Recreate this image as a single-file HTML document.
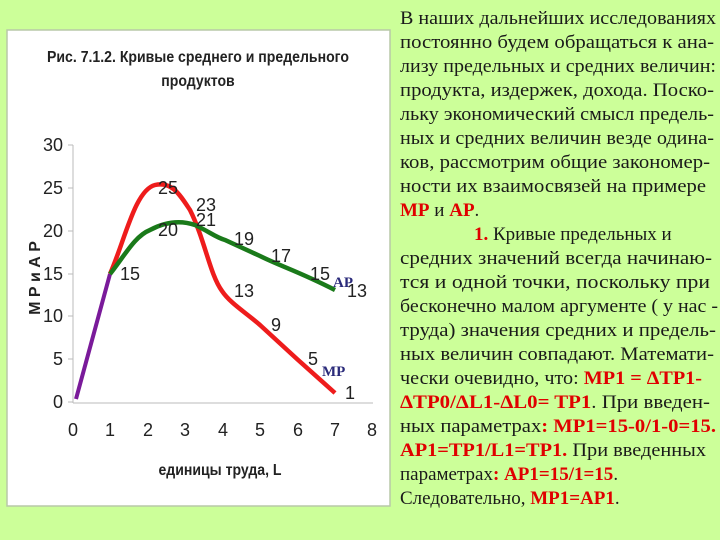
<!DOCTYPE html>
<html><head><meta charset="utf-8"><style>
html,body{margin:0;padding:0;background:#ccff99;}
svg{display:block}
</style></head><body>
<svg width="720" height="540" xmlns="http://www.w3.org/2000/svg">
<rect width="720" height="540" fill="#ccff99"/>
<rect x="7" y="30" width="383" height="476" fill="#fff" stroke="#b8c8a8" stroke-width="1.5"/>
<g font-family="Liberation Sans, sans-serif" font-weight="bold" fill="#222" text-anchor="middle">
<text x="198" y="62" font-size="16" transform="translate(198,0) scale(0.88,1) translate(-198,0)">Рис. 7.1.2. Кривые среднего и предельного</text>
<text x="198" y="86" font-size="16" transform="translate(198,0) scale(0.88,1) translate(-198,0)">продуктов</text>
<text x="220" y="475" font-size="16" transform="translate(220,0) scale(0.88,1) translate(-220,0)">единицы труда, L</text>
<text transform="translate(40,278) rotate(-90)" font-size="16">М Р  и  А Р</text>
</g>
<line x1="73" y1="145" x2="73" y2="403" stroke="#bbb"/>
<line x1="73" y1="403" x2="373" y2="403" stroke="#bbb"/>
<g stroke="#bbb">
<line x1="68" y1="145" x2="73" y2="145"/><line x1="68" y1="188" x2="73" y2="188"/><line x1="68" y1="231" x2="73" y2="231"/><line x1="68" y1="274" x2="73" y2="274"/><line x1="68" y1="316" x2="73" y2="316"/><line x1="68" y1="359" x2="73" y2="359"/><line x1="68" y1="402" x2="73" y2="402"/>
</g>
<g font-family="Liberation Sans, sans-serif" font-size="18" fill="#222">
<g text-anchor="end">
<text x="63" y="151">30</text><text x="63" y="194">25</text><text x="63" y="237">20</text><text x="63" y="280">15</text><text x="63" y="322">10</text><text x="63" y="365">5</text><text x="63" y="408">0</text>
</g>
<g text-anchor="middle">
<text x="73" y="436">0</text><text x="110" y="436">1</text><text x="148" y="436">2</text><text x="185" y="436">3</text><text x="223" y="436">4</text><text x="260" y="436">5</text><text x="298" y="436">6</text><text x="335" y="436">7</text><text x="372" y="436">8</text>
</g>
</g>
<path d="M76,399 L110,274" stroke="#7a1a9a" stroke-width="4" fill="none"/>
<path d="M110,274 C125,240 135,190 155,185 C172,181 180,195 190,210 C205,240 210,275 222,291 C230,303 245,312 260,325 L297,359 L335,393" stroke="#ee1c1c" stroke-width="4.5" fill="none"/>
<path d="M110,274 C125,255 135,236 150,230 C165,222 180,220 195,225 C210,232 215,237 225,240 L260,256 C280,266 300,272 335,290" stroke="#1a7a1a" stroke-width="4.5" fill="none"/>
<g font-family="Liberation Sans, sans-serif" font-size="18" fill="#222">
<text x="120" y="280">15</text>
<text x="158" y="194">25</text>
<text x="196" y="211">23</text>
<text x="196" y="226">21</text>
<text x="158" y="236">20</text>
<text x="234" y="245">19</text>
<text x="271" y="262">17</text>
<text x="310" y="280">15</text>
<text x="347" y="297">13</text>
<text x="234" y="297">13</text>
<text x="271" y="331">9</text>
<text x="308" y="365">5</text>
<text x="345" y="399">1</text>
</g>
<g font-family="Liberation Serif, serif" font-weight="bold" font-size="15" fill="#2a2a7a">
<text x="333" y="287">AP</text>
<text x="322" y="376">MP</text>
</g>
<g font-family="Liberation Serif, serif" font-size="19" fill="#1a1a1a">
<text x="400" y="24" textLength="316" lengthAdjust="spacingAndGlyphs">В наших дальнейших исследованиях</text>
<text x="400" y="48" textLength="314" lengthAdjust="spacingAndGlyphs">постоянно будем обращаться к ана-</text>
<text x="400" y="72" textLength="316" lengthAdjust="spacingAndGlyphs">лизу предельных и средних величин:</text>
<text x="400" y="96" textLength="314" lengthAdjust="spacingAndGlyphs">продукта, издержек, дохода. Поско-</text>
<text x="400" y="120" textLength="314" lengthAdjust="spacingAndGlyphs">льку экономический смысл предель-</text>
<text x="400" y="144" textLength="314" lengthAdjust="spacingAndGlyphs">ных и средних величин везде одина-</text>
<text x="400" y="168" textLength="310" lengthAdjust="spacingAndGlyphs">ков, рассмотрим общие закономер-</text>
<text x="400" y="192" textLength="306" lengthAdjust="spacingAndGlyphs">ности их взаимосвязей на примере</text>
<text x="400" y="216"><tspan fill="#e00000" font-weight="bold">MP</tspan> и <tspan fill="#e00000" font-weight="bold">AP</tspan>.</text>
<text x="474" y="240"><tspan fill="#e00000" font-weight="bold">1.</tspan> Кривые предельных и</text>
<text x="400" y="264" textLength="312" lengthAdjust="spacingAndGlyphs">средних значений всегда начинаю-</text>
<text x="400" y="288" textLength="310" lengthAdjust="spacingAndGlyphs">тся и одной точки, поскольку при</text>
<text x="400" y="312" textLength="318" lengthAdjust="spacingAndGlyphs">бесконечно малом аргументе ( у нас -</text>
<text x="400" y="336" textLength="316" lengthAdjust="spacingAndGlyphs">труда) значения средних и предель-</text>
<text x="400" y="360" textLength="314" lengthAdjust="spacingAndGlyphs">ных величин совпадают. Математи-</text>
<text x="400" y="384" textLength="302" lengthAdjust="spacingAndGlyphs">чески очевидно, что: <tspan fill="#e00000" font-weight="bold">MP1 = ΔTP1-</tspan></text>
<text x="400" y="408" textLength="310" lengthAdjust="spacingAndGlyphs"><tspan fill="#e00000" font-weight="bold">ΔTP0/ΔL1-ΔL0= TP1</tspan>. При введен-</text>
<text x="400" y="432" textLength="316" lengthAdjust="spacingAndGlyphs">ных параметрах<tspan fill="#e00000" font-weight="bold">: MP1=15-0/1-0=15.</tspan></text>
<text x="400" y="456" textLength="306" lengthAdjust="spacingAndGlyphs"><tspan fill="#e00000" font-weight="bold">AP1=TP1/L1=TP1.</tspan> При введенных</text>
<text x="400" y="480">параметрах<tspan fill="#e00000" font-weight="bold">: AP1=15/1=15</tspan>.</text>
<text x="400" y="504">Следовательно, <tspan fill="#e00000" font-weight="bold">MP1=AP1</tspan>.</text>
</g>
</svg>
</body></html>
